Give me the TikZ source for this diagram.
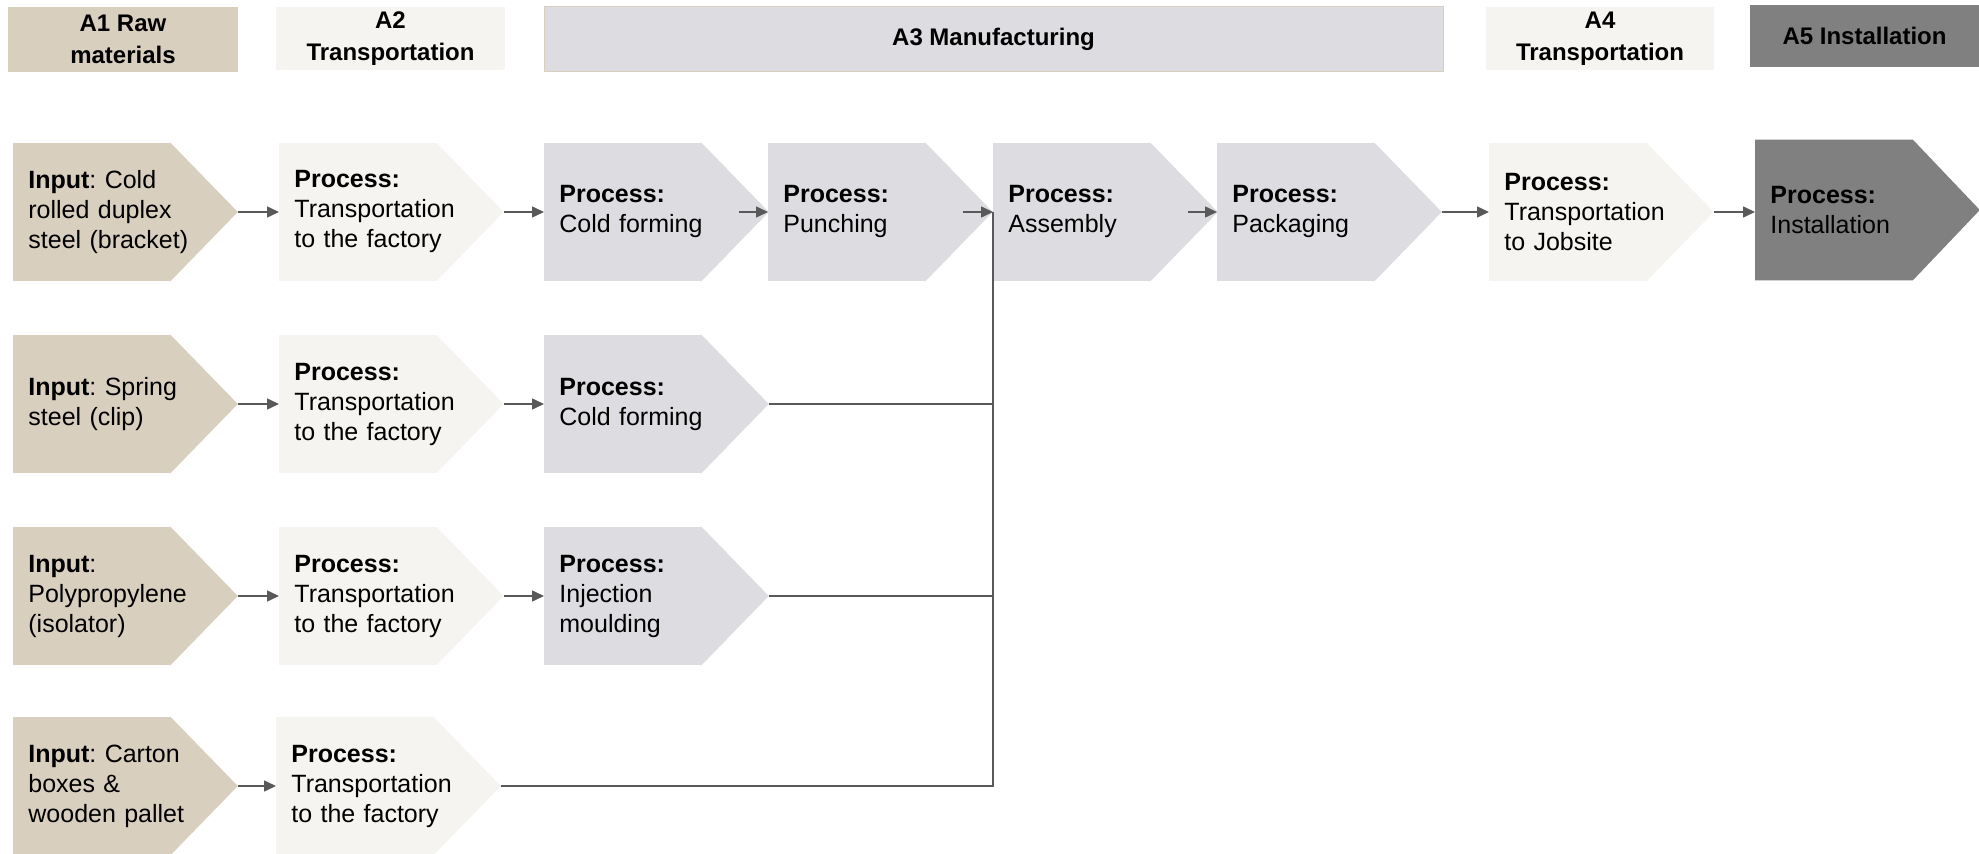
\documentclass[tikz,border=0pt]{standalone}
\usepackage{fontspec}
\setmainfont{Liberation Sans}
\frenchspacing
\usetikzlibrary{arrows.meta}
\usetikzlibrary{backgrounds}
\definecolor{rawc}{HTML}{D8CFBF}
\definecolor{transc}{HTML}{F5F4F0}
\definecolor{manuc}{HTML}{DDDCE0}
\definecolor{instc}{HTML}{808080}
\definecolor{linec}{HTML}{595959}

\begin{document}
\begin{tikzpicture}[x=0.5pt, y=-0.5pt]
                \tikzstyle{head} = [inner sep=0pt, align=center, font=\fontsize{12}{16}\selectfont\bfseries]
                \tikzstyle{stage} = [anchor=west, minimum width=112pt, minimum height=68.5pt, inner xsep=7.5pt, inner ysep=0pt, text width=97pt, align=left, font=\fontsize{12.5}{15}\selectfont]
                \tikzstyle{link} = [linec, line width=0.75pt]
                \tikzstyle{arrow} = [link, -{Triangle[length=6pt, width=5.5pt]}]
                \useasboundingbox (0, 0) rectangle (1979, 854);
                \node[head, fill=rawc, minimum width=115pt, minimum height=32.5pt] (h1) at (123, 39.5) {A1 Raw\\materials};
                \node[head, fill=transc, minimum width=114.5pt, minimum height=31.5pt] (h2) at (390.5, 38.5) {A2\\Transportation};
                \node[head, fill=manuc, draw=rawc, line width=0.5pt, minimum width=449.5pt, minimum height=32.5pt] (h3) at (993.5, 39.5) {A3 Manufacturing};
                \node[head, fill=transc, minimum width=114pt, minimum height=31.5pt] (h4) at (1600, 38.5) {A4\\Transportation};
                \node[head, fill=instc, minimum width=114.5pt, minimum height=31pt] (h5) at (1864.5, 36) {A5 Installation};
                \node[stage] (in1) at (13, 212) {\textbf{Input}: Cold\\rolled duplex\\steel (bracket)};
                \node[stage] (tr1) at (279, 212) {\textbf{Process:}\\Transportation\\to the factory};
                \node[stage] (cf1) at (544, 212) {\textbf{Process:}\\Cold forming};
                \node[stage] (pu) at (768, 212) {\textbf{Process:}\\Punching};
                \node[stage] (as) at (993, 212) {\textbf{Process:}\\Assembly};
                \node[stage] (pk) at (1217, 212) {\textbf{Process:}\\Packaging};
                \node[stage] (jb) at (1489, 212) {\textbf{Process:}\\Transportation\\to Jobsite};
                \node[stage, minimum height=70pt] (inst) at (1755, 210) {\textbf{Process:}\\Installation};
                \node[stage] (in2) at (13, 404) {\textbf{Input}: Spring\\steel (clip)};
                \node[stage] (tr2) at (279, 404) {\textbf{Process:}\\Transportation\\to the factory};
                \node[stage] (cf2) at (544, 404) {\textbf{Process:}\\Cold forming};
                \node[stage] (in3) at (13, 596) {\textbf{Input}:\\Polypropylene\\(isolator)};
                \node[stage] (tr3) at (279, 596) {\textbf{Process:}\\Transportation\\to the factory};
                \node[stage] (im) at (544, 596) {\textbf{Process:}\\Injection\\moulding};
                \node[stage] (in4) at (13, 786) {\textbf{Input}: Carton\\boxes \&\\wooden pallet};
                \node[stage] (tr4) at (276, 786) {\textbf{Process:}\\Transportation\\to the factory};
                \begin{scope}[on background layer]
                    \foreach \n/\c in {in1/rawc, in2/rawc, in3/rawc, in4/rawc, tr1/transc, tr2/transc, tr3/transc, tr4/transc, jb/transc, cf1/manuc, cf2/manuc, im/manuc, pu/manuc, as/manuc, pk/manuc, inst/instc}
                        \fill[\c] (\n.north west) -- ([xshift=-33.5pt]\n.north east) -- (\n.east) -- ([xshift=-33.5pt]\n.south east) -- (\n.south west) -- cycle;
                \end{scope}
                \draw[arrow] (in1.east) -- (tr1.west);
                \draw[arrow] (tr1.east) -- (cf1.west);
                \draw[arrow] ([xshift=-15pt]cf1.east) -- (pu.west);
                \draw[arrow] ([xshift=-15pt]pu.east) -- (as.west);
                \draw[arrow] ([xshift=-15pt]as.east) -- (pk.west);
                \draw[arrow] (pk.east) -- (jb.west);
                \draw[arrow] (jb.east) -- (jb.east -| inst.west);
                \draw[arrow] (in2.east) -- (tr2.west);
                \draw[arrow] (tr2.east) -- (cf2.west);
                \draw[arrow] (in3.east) -- (tr3.west);
                \draw[arrow] (tr3.east) -- (im.west);
                \draw[arrow] (in4.east) -- (tr4.west);
                \draw[link] (cf2.east) -- (cf2.east -| as.west);
                \draw[link] (im.east) -- (im.east -| as.west);
                \draw[link] (tr4.east) -- (tr4.east -| as.west) -- (as.west);
            \end{tikzpicture}
\end{document}
